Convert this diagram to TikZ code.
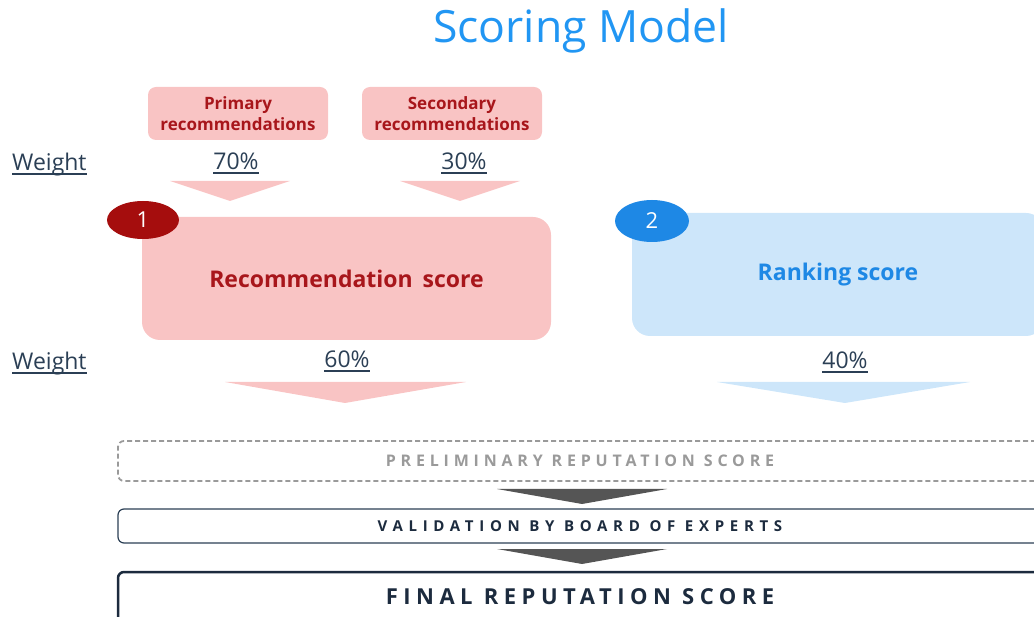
\documentclass[tikz,border=0pt]{standalone}
\usepackage{fontspec}
\setmainfont{Open Sans}
\newfontfamily\spacedp[LetterSpace=30]{Open Sans}
\newfontfamily\spacedv[LetterSpace=38]{Open Sans}
\newfontfamily\spacedf[LetterSpace=25]{Open Sans}
\usetikzlibrary{shapes.geometric}
\definecolor{pinkfill}{HTML}{F9C4C4}
\definecolor{darkred}{HTML}{A8161B}
\definecolor{badgered}{HTML}{A50D0D}
\definecolor{bluefill}{HTML}{CDE6FA}
\definecolor{bluetext}{HTML}{1E88E5}
\definecolor{titleblue}{HTML}{2196F3}
\definecolor{slate}{HTML}{2B3F55}
\definecolor{navy}{HTML}{1C2B3E}
\definecolor{arrowgray}{HTML}{555555}
\definecolor{dashgray}{HTML}{9A9A9A}
\begin{document}
\begin{tikzpicture}[x=1pt,y=-1pt,
  smallbox/.style={fill=pinkfill, rounded corners=8pt, minimum width=180pt, minimum height=53pt, align=center, text=darkred, font=\fontsize{17}{21}\selectfont\bfseries, inner sep=0pt},
  bigbox/.style={rounded corners=18pt, minimum width=409pt, minimum height=123pt, inner sep=0pt, font=\fontsize{23}{26}\selectfont\bfseries},
  badge/.style={ellipse, inner sep=0pt, text=white, font=\fontsize{22}{26}\selectfont},
  weight/.style={text=slate, font=\fontsize{23}{26}\selectfont, inner sep=0pt, anchor=base},
  ul/.style={slate, line width=1.3pt},
  stagebox/.style={rounded corners=6pt, minimum width=924pt, inner sep=0pt}
]
\useasboundingbox (0,0) rectangle (1034,617);
\clip (0,0) rectangle (1034,617);

\node[text=titleblue, font=\fontsize{44.5}{50}\selectfont, inner sep=0pt] (title) at (581,31) {Scoring Model};

\node[smallbox] (prim) at (238,113.5) {Primary\\recommendations};
\node[smallbox] (sec) at (452,113.5) {Secondary\\recommendations};

\node[weight, anchor=base west] (w1) at (12,171) {Weight};
\node[weight] (p70) at (236,170) {70\%};
\node[weight] (p30) at (464,170) {30\%};
\foreach \n in {w1,p70,p30}
  \draw[ul] ([yshift=-3pt]\n.base west) -- ([yshift=-3pt]\n.base east);

\fill[pinkfill] (170,181) -- (290,181) -- (230,201) -- cycle;
\fill[pinkfill] (400,181) -- (520,181) -- (460,201) -- cycle;

\node[bigbox, fill=pinkfill, text=darkred] (rec) at (346.5,278.5) {Recommendation\, score};
\node[bigbox, fill=bluefill, text=bluetext, minimum width=412pt] (rank) at (838,274.5) {Ranking score};

\node[badge, fill=badgered, minimum width=72pt, minimum height=38pt] (b1) at (143,220) {1};
\node[badge, fill=bluetext, minimum width=74pt, minimum height=42pt] (b2) at (652,221) {2};

\node[weight, anchor=base west] (w2) at (12,370) {Weight};
\node[weight] (p60) at (347,368) {60\%};
\node[weight] (p40) at (845,369) {40\%};
\foreach \n in {w2,p60,p40}
  \draw[ul] ([yshift=-3pt]\n.base west) -- ([yshift=-3pt]\n.base east);

\fill[pinkfill] (225,382) -- (466,382) -- (345,403) -- cycle;
\fill[bluefill] (717,382) -- (970,382) -- (845,403) -- cycle;

\node[stagebox, draw=dashgray, line width=1.8pt, dash pattern=on 5pt off 3pt, minimum height=40pt, text=dashgray, font=\fontsize{16}{19}\selectfont\spacedp\bfseries] (prelim) at (580,461) {PRELIMINARY REPUTATION SCORE};

\fill[arrowgray] (497,489) -- (667,489) -- (582,504) -- cycle;

\node[stagebox, draw=slate, line width=1.2pt, minimum height=34pt, text=navy, font=\fontsize{15}{18}\selectfont\spacedv\bfseries] (valid) at (580,526) {VALIDATION BY BOARD OF EXPERTS};

\fill[arrowgray] (497,549) -- (667,549) -- (582,564) -- cycle;

\node[stagebox, draw=navy, line width=2.5pt, minimum height=50pt, text=navy, font=\fontsize{22}{25}\selectfont\spacedf\bfseries] (final) at (580,597) {FINAL REPUTATION SCORE};
\end{tikzpicture}
\end{document}
